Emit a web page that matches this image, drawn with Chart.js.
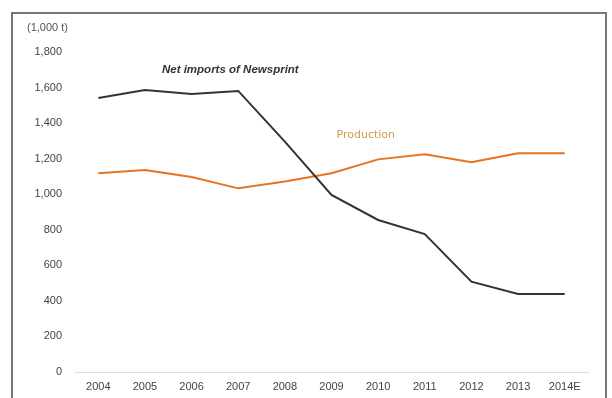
<!DOCTYPE html>
<html>
<head>
<meta charset="utf-8">
<script src="https://cdn.jsdelivr.net/npm/chart.js@4.4.1/dist/chart.umd.min.js"></script>
<style>
  html, body { margin: 0; padding: 0; background: #fff; }
  #wrap { position: relative; width: 612px; height: 398px; overflow: hidden; }
  #frame { position: absolute; left: 11px; top: 12px; width: 596px; height: 400px; border: 2px solid #777; box-sizing: border-box; }
  canvas { position: absolute; left: 0; top: 0; }
</style>
</head>
<body>
<div id="wrap">
  <div id="frame"></div>
  <canvas id="lineChart" width="612" height="398"></canvas>
</div>
<script>
// newsprint supply, thousand tonnes
const years = ['2004', '2005', '2006', '2007', '2008', '2009', '2010', '2011', '2012', '2013', '2014E'];
const netImports = [1541, 1586, 1564, 1581, 1296, 996, 855, 776, 508, 439, 439];
const production = [1118, 1136, 1097, 1033, 1071, 1118, 1196, 1225, 1180, 1230, 1230];
const yTicks = [0, 200, 400, 600, 800, 1000, 1200, 1400, 1600, 1800];

let ctx = document.getElementById('lineChart').getContext('2d');

const tickFont = { size: 11, family: '"Liberation Sans", Arial, sans-serif' };

// unit caption and the in-plot series names
const labelsPlugin = {
  id: 'seriesLabels',
  afterDraw(chart) {
    const c = chart.ctx;
    const x = chart.scales.x;
    const y = chart.scales.y;
    c.save();
    c.font = '11px "Liberation Sans", Arial, sans-serif';
    c.fillStyle = '#555';
    c.textBaseline = 'middle';
    c.textAlign = 'left';
    c.fillText('(1,000 t)', 27, 28);

    c.font = 'italic bold 11.5px "Liberation Sans", Arial, sans-serif';
    c.fillStyle = '#333';
    c.fillText('Net imports of Newsprint', x.getPixelForValue(1) + 17, y.getPixelForValue(1700));

    c.font = '11px "DejaVu Sans", sans-serif';
    c.fillStyle = '#d49a4c';
    c.filter = 'blur(0.5px)';
    c.fillText('Production', x.getPixelForValue(5) + 5, y.getPixelForValue(1330));
    c.restore();
  }
};

new Chart(ctx, {
  type: 'line',
  data: {
    labels: years,
    datasets: [{
      label: 'Net imports of Newsprint',
      data: netImports,
      borderColor: '#333',
      borderWidth: 2,
      pointRadius: 0,
      tension: 0,
      fill: false
    }, {
      label: 'Production',
      data: production,
      borderColor: '#e8731e',
      borderWidth: 2,
      pointRadius: 0,
      tension: 0,
      fill: false
    }]
  },
  options: {
    responsive: false,
    animation: false,
    layout: { padding: { left: 0, right: 24, top: 52, bottom: 0 } },
    plugins: {
      legend: { display: false },
      tooltip: { enabled: false }
    },
    scales: {
      x: {
        offset: true,
        grid: { display: false, drawTicks: false },
        border: { display: true, color: '#ddd', width: 1 },
        ticks: {
          color: '#444',
          font: tickFont,
          padding: 8,
          maxRotation: 0,
          autoSkip: false
        },
        afterFit(scale) { scale.height = 26; }
      },
      y: {
        min: 0,
        max: 1800,
        afterBuildTicks(scale) { scale.ticks = yTicks.map(v => ({ value: v })); },
        grid: { display: false, drawTicks: false },
        border: { display: false },
        ticks: {
          color: '#444',
          font: tickFont,
          padding: 13,
          callback: v => v.toLocaleString('en-US')
        },
        afterFit(scale) { scale.width = 75; }
      }
    }
  },
  plugins: [labelsPlugin]
});
</script>
</body>
</html>
